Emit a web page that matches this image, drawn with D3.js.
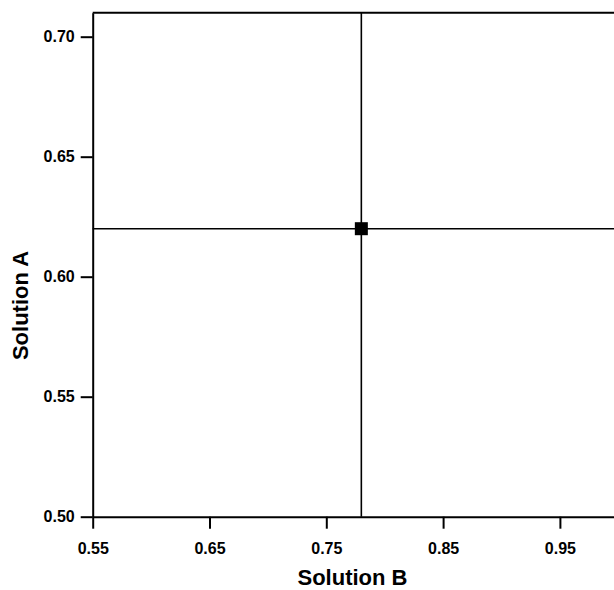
<!DOCTYPE html>
<html>
<head>
<meta charset="utf-8">
<script src="https://cdn.jsdelivr.net/npm/d3@7"></script>
<style>
  html, body { margin: 0; padding: 0; background: #fff; }
  svg { display: block; }
  text { font-family: "Liberation Sans", Arial, Helvetica, sans-serif; font-weight: bold; fill: #000; }
</style>
</head>
<body>
<svg id="chart" width="614" height="590"></svg>
<script>
// Data
const pointB = [0.78];          // Solution B (x)
const pointA = [0.62];          // Solution A (y)
const xTicks = [0.55, 0.65, 0.75, 0.85, 0.95];
const yTicks = [0.50, 0.55, 0.60, 0.65, 0.70];
const xDomain = [0.55, 1.0];
const yDomain = [0.50, 0.71];
const xLabel = "Solution B";
const yLabel = "Solution A";

(function () {
const svg = d3.select("#chart");
const mLeft = 92.7, mTop = 12.7, mBottom = 516.7;
const x = d3.scaleLinear().domain(xDomain).range([mLeft, mLeft + 0.45 * 1168]);
const y = d3.scaleLinear().domain(yDomain).range([mBottom, mTop]);

// Axes
const gx = svg.append("g").attr("transform", `translate(0,${mBottom})`)
  .call(d3.axisBottom(x).tickValues(xTicks).tickFormat(d3.format(".2f"))
    .tickSize(12).tickSizeOuter(0).tickPadding(14));
const gy = svg.append("g").attr("transform", `translate(${mLeft},0)`)
  .call(d3.axisLeft(y).tickValues(yTicks).tickFormat(d3.format(".2f"))
    .tickSize(12).tickSizeOuter(0).tickPadding(6));
[gx, gy].forEach(g => {
  g.selectAll("path.domain").attr("stroke", "#000").attr("stroke-width", 2);
  g.selectAll(".tick line").attr("stroke", "#000").attr("stroke-width", 2);
  g.selectAll(".tick text").style("font-size", "16px").style("font-family", '"Liberation Sans", Arial, sans-serif').style("font-weight", "bold").attr("fill", "#000");
});

// Top border
svg.append("line")
  .attr("x1", x(xDomain[0])).attr("x2", x(xDomain[1]))
  .attr("y1", y(yDomain[1])).attr("y2", y(yDomain[1]))
  .attr("stroke", "#000").attr("stroke-width", 2);

// Cross lines through the point
svg.selectAll("line.v").data(pointB).enter().append("line").attr("class", "v")
  .attr("x1", d => x(d)).attr("x2", d => x(d))
  .attr("y1", y(yDomain[0])).attr("y2", y(yDomain[1]))
  .attr("stroke", "#000").attr("stroke-width", 1.6);
svg.selectAll("line.h").data(pointA).enter().append("line").attr("class", "h")
  .attr("x1", x(xDomain[0])).attr("x2", x(xDomain[1]))
  .attr("y1", d => y(d)).attr("y2", d => y(d))
  .attr("stroke", "#000").attr("stroke-width", 1.6);

// Marker
const s = 13;
svg.selectAll("rect.pt").data(pointB.map((b, i) => [b, pointA[i]])).enter()
  .append("rect").attr("class", "pt")
  .attr("x", d => x(d[0]) - s / 2).attr("y", d => y(d[1]) - s / 2)
  .attr("width", s).attr("height", s).attr("fill", "#000");

// Axis titles
svg.append("text").attr("x", 352.5).attr("y", 585)
  .attr("text-anchor", "middle").style("font-size", "22px").text(xLabel);
svg.append("text").attr("transform", "translate(28,305.5) rotate(-90)")
  .attr("text-anchor", "middle").style("font-size", "22px").text(yLabel);
})();
</script>
</body>
</html>
